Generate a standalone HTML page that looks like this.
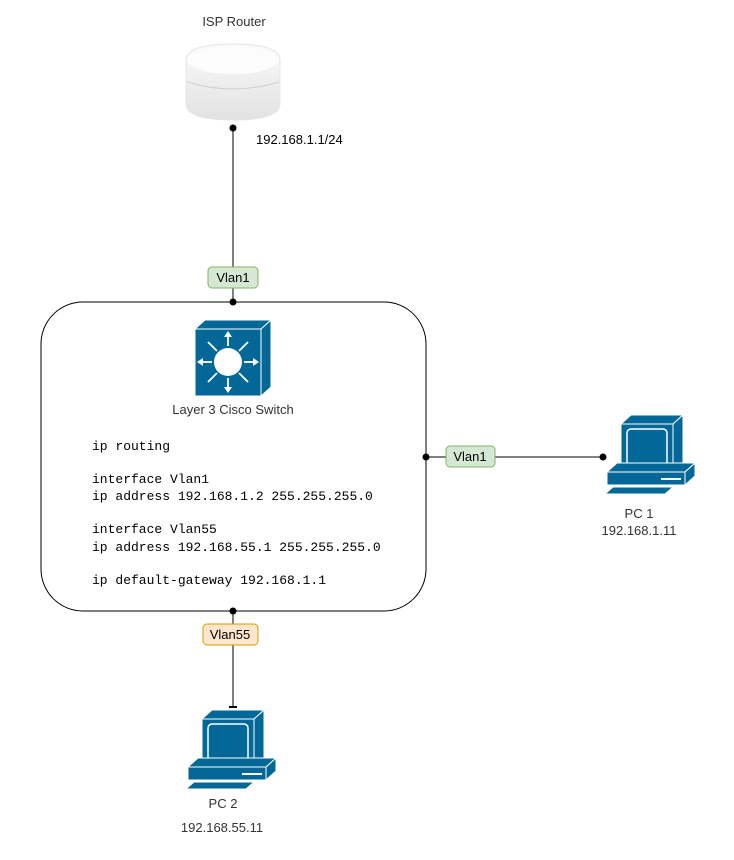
<!DOCTYPE html>
<html><head><meta charset="utf-8"><style>
html,body{margin:0;padding:0;background:#fff;}
svg{display:block;font-family:"Liberation Sans",Arial,sans-serif;}
.mono{font-family:"Liberation Mono","DejaVu Sans Mono",monospace;font-size:13px;fill:#000;}
</style></head><body>
<svg width="734" height="860" viewBox="0 0 734 860" xmlns="http://www.w3.org/2000/svg">
<defs>
<linearGradient id="rg" x1="0" y1="0" x2="0" y2="1">
<stop offset="0" stop-color="#fafafa"/><stop offset="1" stop-color="#e2e2e2"/>
</linearGradient>
<g id="pc" stroke="#fff" stroke-width="1" stroke-linejoin="round">
<polygon points="18,12 28,3 80,3 70,12" fill="#036897"/>
<polygon points="70,12 80,3 80,52 70,60" fill="#036897"/>
<rect x="18" y="12" width="52" height="48" fill="#036897"/>
<rect x="24" y="17" width="40" height="37" rx="4" fill="none" stroke-width="1.5"/>
<polygon points="4,60 14,51 92,51 82,60" fill="#036897"/>
<polygon points="82,60 92,51 92,64 82,73" fill="#036897"/>
<rect x="4" y="60" width="78" height="13" fill="#036897"/>
<rect x="58" y="66" width="20" height="2" fill="#fff" stroke="none"/>
<polygon points="2,82 10,75 70,75 62,82" fill="#036897"/>
</g>
</defs>

<text x="234" y="26" font-size="13" text-anchor="middle" fill="#333">ISP Router</text>
<path d="M186,60 Q186,44 233,44 Q280,44 280,60 L280,104 Q280,120 233,120 Q186,120 186,104 Z" fill="url(#rg)" stroke="#e6e6e6"/>
<ellipse cx="233" cy="60" rx="46" ry="14" fill="#fcfcfc"/>
<path d="M187,82 Q233,96 279,82" fill="none" stroke="#cfcfcf" stroke-width="1"/>

<line x1="233" y1="128" x2="233" y2="302" stroke="#000"/>
<circle cx="233" cy="128" r="3.5" fill="#000"/>
<text x="256" y="144" font-size="13" fill="#000">192.168.1.1/24</text>

<rect x="41" y="302" width="385" height="309" rx="42" fill="#fff" stroke="#000"/>
<circle cx="233" cy="302" r="3.5" fill="#000"/>
<rect x="208" y="267" width="50" height="21" rx="4" fill="#d5e8d4" stroke="#82b366"/>
<text x="233" y="282" font-size="13" text-anchor="middle" fill="#000">Vlan1</text>

<g stroke="#fff" stroke-width="1" stroke-linejoin="round">
<polygon points="195,329 205,320 271,320 261,329" fill="#036897"/>
<polygon points="261,329 271,320 271,387 261,396" fill="#036897"/>
<rect x="195" y="329" width="66" height="67" fill="#036897"/>
</g>
<circle cx="228" cy="362" r="14" fill="#fff"/>
<g stroke="#fff" stroke-width="1.8" fill="#fff">
<line x1="228" y1="346" x2="228" y2="334"/><polygon points="224,337 228,331 232,337" stroke="none"/>
<line x1="228" y1="378" x2="228" y2="390"/><polygon points="224,387 228,393 232,387" stroke="none"/>
<line x1="212" y1="362" x2="200" y2="362"/><polygon points="203,358 197,362 203,366" stroke="none"/>
<line x1="244" y1="362" x2="256" y2="362"/><polygon points="253,358 259,362 253,366" stroke="none"/>
<line x1="217" y1="351" x2="208" y2="342"/><line x1="239" y1="351" x2="248" y2="342"/>
<line x1="217" y1="373" x2="208" y2="382"/><line x1="239" y1="373" x2="248" y2="382"/>
</g>
<text x="233" y="414" font-size="13" text-anchor="middle" fill="#333">Layer 3 Cisco Switch</text>

<text class="mono" x="92" y="450">ip routing</text>
<text class="mono" x="92" y="483">interface Vlan1</text>
<text class="mono" x="92" y="500">ip address 192.168.1.2 255.255.255.0</text>
<text class="mono" x="92" y="533">interface Vlan55</text>
<text class="mono" x="92" y="551">ip address 192.168.55.1 255.255.255.0</text>
<text class="mono" x="92" y="584">ip default-gateway 192.168.1.1</text>

<line x1="426" y1="457" x2="603" y2="457" stroke="#000"/>
<circle cx="426" cy="457" r="3.5" fill="#000"/>
<circle cx="603" cy="457" r="3.5" fill="#000"/>
<rect x="446" y="446" width="49" height="21" rx="4" fill="#d5e8d4" stroke="#82b366"/>
<text x="470" y="461" font-size="13" text-anchor="middle" fill="#000">Vlan1</text>
<use href="#pc" x="603" y="412"/>
<text x="639" y="518" font-size="13" text-anchor="middle" fill="#333">PC 1</text>
<text x="639" y="535" font-size="13" text-anchor="middle" fill="#333">192.168.1.11</text>

<line x1="233" y1="611" x2="233" y2="707" stroke="#000"/>
<circle cx="233" cy="611" r="3.5" fill="#000"/>
<rect x="203" y="624" width="55" height="21" rx="4" fill="#ffe6cc" stroke="#d79b00"/>
<text x="230" y="639" font-size="13" text-anchor="middle" fill="#000">Vlan55</text>
<line x1="229" y1="707" x2="237" y2="707" stroke="#000" stroke-width="2"/>
<use href="#pc" x="184" y="707"/>
<text x="223" y="808" font-size="13" text-anchor="middle" fill="#333">PC 2</text>
<text x="222" y="832" font-size="13" text-anchor="middle" fill="#333">192.168.55.11</text>
</svg>
</body></html>
